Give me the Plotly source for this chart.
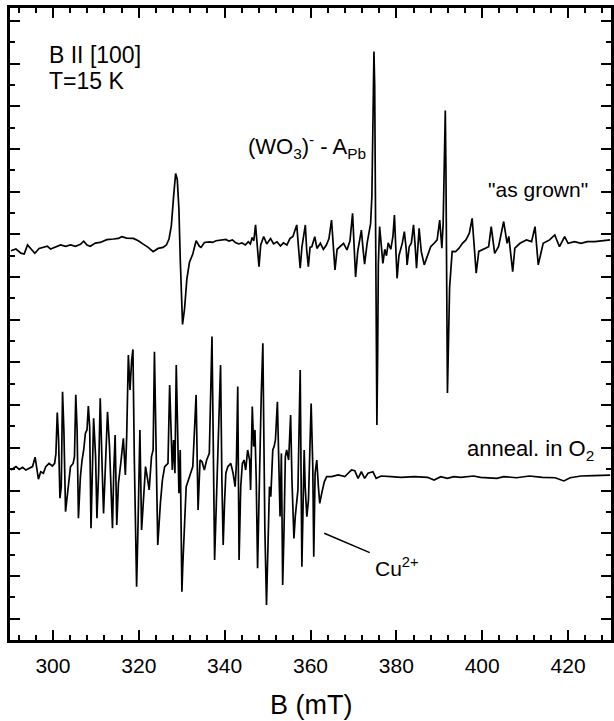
import plotly.graph_objects as go

# "as grown" spectrum (B in mT, signal in arbitrary units)
B_grown = [290.23, 291.39, 292.54, 293.31, 294.08, 295.24, 295.78, 296.78, 297.93, 298.70,
           299.47, 300.63, 301.78, 302.94, 304.09, 305.25, 306.40, 307.17, 307.94, 308.71,
           309.87, 311.02, 312.56, 314.10, 315.26, 316.03, 317.18, 318.72, 319.88, 321.03,
           322.19, 323.34, 324.50, 325.65, 326.42, 327.04, 327.58, 328.12, 328.58, 328.96,
           329.35, 329.66, 329.96, 330.19, 330.66, 331.20, 331.81, 332.58, 333.35, 334.12,
           334.51, 335.28, 336.43, 337.2, 338.0, 339.5, 340.3, 341.0, 341.8, 342.5,
           343.3, 344.0, 344.8, 345.5, 346.0, 346.4, 346.8, 347.2, 347.6, 348.0,
           348.4, 349.1, 349.8, 350.7, 351.4, 352.2, 353.0, 353.7, 354.5, 355.2,
           355.9, 356.4, 356.8, 357.2, 357.6, 358.0, 358.4, 358.8, 359.1, 359.5,
           359.9, 360.3, 361.0, 361.5, 362.3, 363.0, 363.7, 364.3, 364.9, 365.3,
           365.7, 366.2, 366.9, 367.7, 368.5, 369.2, 369.8, 370.2, 370.5, 371.0,
           371.4, 371.85, 372.2, 372.6, 373.2, 373.6, 374.0, 374.3, 374.6, 374.78,
           374.95, 375.1, 375.3, 375.47, 375.65, 375.8, 376.1, 376.5, 376.86, 377.3,
           377.7, 378.1, 378.7, 379.2, 379.55, 379.9, 380.17, 380.6, 381.0, 381.4,
           381.86, 382.3, 382.5, 383.0, 383.5, 384.0, 384.4, 384.7, 385.3, 385.8,
           386.5, 387.2, 388.0, 388.8, 389.5, 390.1, 390.6, 390.9, 391.2, 391.4,
           391.55, 391.7, 391.9, 392.1, 392.4, 393.0, 393.8, 394.6, 395.4, 396.2,
           397.0, 397.65, 398.1, 398.6, 399.2, 400.0, 400.8, 401.5, 402.1, 402.9,
           403.8, 405.0, 405.8, 406.2, 407.1, 407.6, 408.8, 410.3, 411.5, 412.3,
           413.05, 414.2, 415.7, 416.9, 418.0, 419.2, 420.0, 421.5, 423.0, 424.5,
           426.2, 427.8, 429.8]
S_grown = [18.23, 18.31, 18.12, 18.08, 18.50, 18.23, 18.11, 18.34, 18.39, 18.44,
           18.31, 18.39, 18.50, 18.44, 18.50, 18.44, 18.53, 18.68, 18.50, 18.44,
           18.59, 18.62, 18.75, 18.78, 18.81, 18.89, 18.82, 18.81, 18.70, 18.54,
           18.39, 18.19, 18.34, 18.39, 18.50, 18.78, 19.40, 20.80, 21.85, 21.58,
           20.18, 17.84, 15.51, 14.78, 15.51, 16.91, 17.69, 18.08, 18.70, 18.44,
           18.39, 18.62, 18.65, 18.62, 18.70, 18.73, 18.76, 18.68, 18.74, 18.62,
           18.55, 18.60, 18.50, 18.65, 18.55, 18.85, 18.70, 19.44, 18.40, 17.48,
           18.50, 18.90, 18.55, 18.80, 18.55, 18.65, 18.45, 18.60, 18.50, 18.80,
           18.90, 19.20, 19.44, 18.40, 17.41, 18.40, 18.90, 19.44, 18.30, 17.48,
           18.40, 18.42, 18.89, 18.34, 18.58, 18.30, 18.50, 18.80, 19.67, 18.50,
           17.33, 18.30, 18.42, 18.58, 18.27, 18.70, 19.98, 18.60, 17.00, 18.20,
           18.60, 19.20, 18.40, 17.60, 18.60, 19.05, 19.50, 20.80, 24.50, 27.56,
           26.00, 20.00, 13.00, 10.07, 13.50, 17.60, 19.36, 18.50, 17.64, 18.30,
           18.00, 18.60, 18.30, 18.90, 19.90, 18.20, 16.94, 18.00, 18.27, 18.60,
           19.13, 18.30, 17.57, 18.42, 18.60, 19.44, 18.40, 17.41, 19.28, 18.20,
           17.57, 17.96, 18.42, 18.58, 18.74, 19.67, 18.35, 19.50, 23.00, 24.80,
           22.00, 16.00, 11.57, 13.50, 16.50, 18.20, 18.19, 18.35, 18.58, 18.74,
           19.05, 19.75, 18.40, 17.18, 18.20, 18.27, 18.35, 18.42, 19.36, 18.11,
           18.42, 19.60, 18.58, 18.90, 17.25, 18.35, 18.58, 18.74, 18.66, 19.36,
           17.57, 18.58, 18.74, 18.97, 18.42, 18.89, 18.58, 18.66, 18.58, 18.66,
           18.66, 18.70, 18.74]

# "anneal. in O2" spectrum
B_anneal = [290.23, 291.39, 292.16, 292.93, 293.70, 294.47, 295.24, 295.85, 296.24, 296.62,
            297.16, 297.78, 298.32, 299.09, 299.86, 300.40, 300.70, 301.01, 301.32, 301.63,
            301.94, 302.24, 302.55, 302.94, 303.32, 303.71, 304.09, 304.71, 305.02, 305.32,
            305.63, 305.94, 306.40, 306.79, 307.17, 307.56, 307.94, 308.25, 308.56, 308.87,
            309.17, 309.48, 309.94, 310.25, 310.64, 311.02, 311.48, 311.79, 312.25, 312.72,
            313.18, 313.87, 314.18, 314.49, 314.87, 315.26, 315.80, 316.41, 316.87, 317.18,
            317.57, 317.95, 318.34, 318.64, 318.95, 319.34, 319.49, 319.80, 320.26, 320.65,
            321.03, 321.57, 321.96, 322.42, 322.96, 323.34, 323.65, 324.11, 324.42, 325.03,
            325.50, 326.03, 326.80, 327.19, 327.50, 327.81, 328.11, 328.42, 328.73, 329.04,
            329.35, 329.65, 330.04, 330.27, 330.66, 331.04, 331.81, 332.58, 333.35, 333.81,
            334.27, 334.74, 335.27, 335.81, 336.43, 337.05, 337.43, 337.66, 337.97, 338.28,
            338.74, 339.05, 339.36, 339.66, 339.97, 340.28, 340.74, 341.43, 341.97, 342.44,
            342.74, 343.05, 343.36, 343.75, 344.13, 344.52, 344.90, 345.36, 345.82, 346.05,
            346.44, 346.75, 347.06, 347.36, 347.67, 347.98, 348.52, 348.90, 349.37, 349.75,
            350.14, 350.44, 350.75, 351.21, 351.52, 351.83, 352.29, 352.60, 352.91, 353.22,
            353.52, 353.83, 354.14, 354.45, 354.91, 355.37, 355.68, 356.14, 356.45, 357.07,
            357.60, 357.99, 358.30, 358.53, 358.76, 359.15, 359.53, 360.15, 360.53, 360.76,
            361.07, 361.46, 361.84, 362.15, 362.61, 363.23, 363.77, 364.92, 366.46, 368.00,
            368.77, 369.54, 370.31, 371.08, 371.85, 372.62, 373.39, 374.54, 375.30, 376.47,
            378.78, 381.09, 384.17, 387.25, 388.79, 390.33, 391.87, 393.41, 394.95, 398.03,
            399.57, 403.42, 405.0, 408.0, 411.0, 414.0, 417.0, 419.0, 420.5, 423.0,
            426.0, 429.8]
S_anneal = [7.96, 8.12, 7.99, 8.09, 7.96, 8.04, 8.12, 8.56, 7.96, 7.53,
            7.88, 7.81, 8.12, 8.27, 8.15, 8.27, 8.74, 10.65, 9.37, 6.64,
            7.18, 11.63, 9.84, 6.01, 6.71, 7.49, 8.12, 8.27, 8.59, 11.48,
            9.84, 5.70, 7.65, 8.43, 8.90, 9.68, 9.84, 10.96, 9.99, 5.23,
            8.27, 10.38, 8.59, 5.70, 7.81, 11.32, 7.96, 5.93, 8.27, 10.69,
            9.06, 5.23, 7.96, 9.60, 5.39, 7.34, 8.27, 9.45, 7.73, 9.52,
            13.35, 11.71, 13.11, 13.61, 8.59, 2.97, 2.50, 5.15, 9.84, 5.15,
            6.40, 8.12, 7.65, 7.03, 8.59, 8.90, 13.50, 8.27, 4.45, 6.40,
            7.49, 8.12, 8.27, 11.94, 9.37, 7.96, 9.37, 7.81, 12.88, 9.06,
            6.87, 8.90, 2.26, 3.59, 5.78, 7.18, 7.65, 8.12, 11.48, 6.09,
            8.43, 8.35, 7.96, 8.43, 8.74, 14.21, 7.81, 3.75, 5.78, 7.81,
            10.15, 12.88, 7.49, 4.45, 6.40, 7.81, 8.12, 8.27, 7.81, 7.18,
            8.27, 11.87, 3.75, 7.18, 8.27, 8.43, 7.96, 8.90, 8.43, 7.03,
            10.93, 9.06, 9.84, 7.49, 3.36, 6.71, 11.40, 13.90, 5.15, 1.64,
            4.37, 7.18, 6.71, 8.90, 9.06, 9.37, 11.16, 8.27, 5.78, 8.74,
            2.58, 5.15, 8.59, 8.90, 8.43, 10.54, 7.49, 4.76, 5.78, 7.03,
            12.65, 3.43, 6.71, 8.90, 7.18, 5.78, 6.56, 11.08, 8.12, 3.90,
            7.81, 8.43, 7.18, 6.40, 6.87, 7.42, 7.65, 7.65, 7.73, 7.65,
            7.81, 7.96, 7.93, 7.57, 7.88, 7.57, 7.81, 7.88, 7.57, 7.68,
            7.65, 7.62, 7.65, 7.62, 7.49, 7.65, 7.57, 7.65, 7.62, 7.68,
            7.62, 7.57, 7.65, 7.60, 7.68, 7.62, 7.60, 7.45, 7.60, 7.68,
            7.70, 7.72]

x_tickvals = [300, 320, 340, 360, 380, 400, 420]
x_ticktext = ["300", "320", "340", "360", "380", "400", "420"]

FONT = "Liberation Sans, Arial, Helvetica, sans-serif"

fig = go.Figure()
fig.add_trace(go.Scatter(x=B_grown, y=S_grown, mode="lines",
                         line=dict(color="black", width=1.7), showlegend=False))
fig.add_trace(go.Scatter(x=B_anneal, y=S_anneal, mode="lines",
                         line=dict(color="black", width=1.7), showlegend=False))

fig.update_layout(
    width=614, height=721,
    margin=dict(l=10, r=0, t=8, b=81),
    paper_bgcolor="white", plot_bgcolor="white",
    font=dict(family=FONT, color="black", size=21),
    xaxis=dict(range=[290, 430], showgrid=False, zeroline=False,
               showline=True, linecolor="black", linewidth=2.5, mirror="ticks",
               ticks="inside", ticklen=10, tickwidth=2, tickcolor="black",
               tickvals=x_tickvals, ticktext=x_ticktext,
               tickfont=dict(size=21, family=FONT), ticklabelstandoff=5,
               minor=dict(ticks="inside", ticklen=5, tickwidth=1.5, tickcolor="black",
                          tick0=300, dtick=4, showgrid=False)),
    yaxis=dict(range=[0, 29.6], showgrid=False, zeroline=False,
               showline=True, linecolor="black", linewidth=2.5, mirror="ticks",
               ticks="inside", ticklen=10, tickwidth=2, tickcolor="black",
               tick0=1, dtick=2, showticklabels=False,
               minor=dict(ticks="inside", ticklen=5, tickwidth=1.5, tickcolor="black",
                          tick0=0, dtick=1, showgrid=False)),
)

ann = [
    dict(x=298.6, y=27.4, text="B II [100]", xanchor="left", yanchor="middle", font=dict(size=23)),
    dict(x=298.6, y=26.2, text="T=15 K", xanchor="left", yanchor="middle", font=dict(size=23)),
    dict(x=345.0, y=23.1, text="(WO<sub>3</sub>)<sup>-</sup> - A<sub>Pb</sub>", xanchor="left",
         yanchor="middle", font=dict(size=22)),
    dict(x=425.0, y=21.1, text="\"as grown\"", xanchor="right", yanchor="middle", font=dict(size=21)),
    dict(x=396.0, y=8.9, text="anneal. in O<sub>2</sub>", xanchor="left", yanchor="middle", font=dict(size=22)),
    dict(x=374.6, y=3.4, text="Cu<sup>2+</sup>", xanchor="left", yanchor="middle", font=dict(size=21)),
    dict(x=0.5, xref="paper", y=-0.103, yref="paper", text="B (mT)", xanchor="center",
         yanchor="middle", font=dict(size=27)),
]
for a in ann:
    a.setdefault("xref", "x")
    a.setdefault("yref", "y")
    a["showarrow"] = False
    fig.add_annotation(**a)

fig.add_shape(type="line", x0=363.2, y0=5.0, x1=373.8, y1=4.09,
              line=dict(color="black", width=1.5))

fig.write_html("out.html")
